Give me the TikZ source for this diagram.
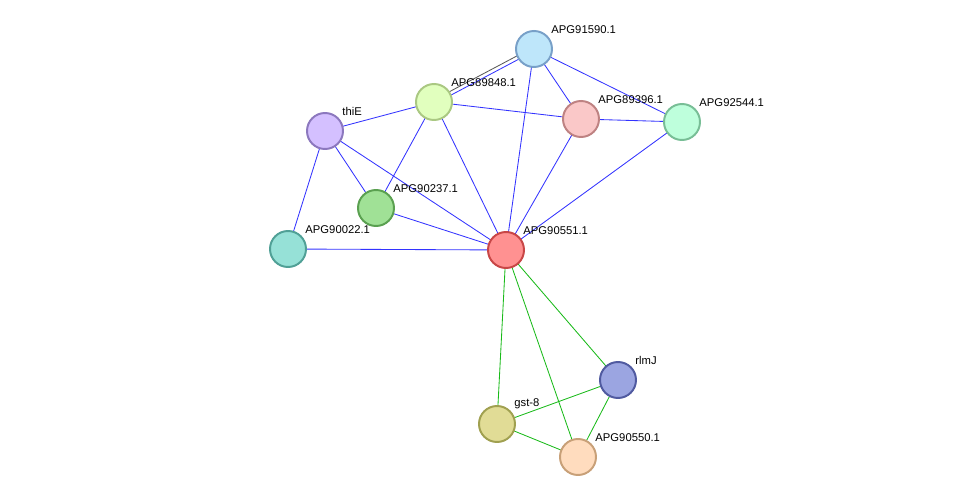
\documentclass[tikz,border=0pt]{standalone}
\usepackage{fontspec}
\setmainfont{Liberation Sans}
\begin{document}
\begin{tikzpicture}[
    x=0.025cm, y=-0.025cm,
    prot/.style={circle, draw, line width=1.4pt, minimum size=0.9cm, inner sep=0pt},
    lbl/.style={anchor=south west, inner sep=0pt, font=\fontsize{8}{9}\selectfont},
    ev/.style={draw=blue!80, line width=0.6pt},
    gv/.style={draw=green!70!black!90, line width=0.6pt},
]
\useasboundingbox (0,0) rectangle (975,503);

% Proteine
\definecolor{fa}{RGB}{190,230,250}\definecolor{ba}{RGB}{120,160,200}
\definecolor{fb}{RGB}{225,255,190}\definecolor{bb}{RGB}{170,200,130}
\definecolor{fc}{RGB}{212,192,255}\definecolor{bc}{RGB}{140,120,190}
\definecolor{fd}{RGB}{250,200,200}\definecolor{bd}{RGB}{190,130,130}
\definecolor{fe}{RGB}{190,255,220}\definecolor{be}{RGB}{120,190,150}
\definecolor{ff}{RGB}{160,225,150}\definecolor{bf}{RGB}{90,160,80}
\definecolor{fg}{RGB}{150,225,215}\definecolor{bg}{RGB}{80,160,150}
\definecolor{fh}{RGB}{255,145,145}\definecolor{bh}{RGB}{200,70,70}
\definecolor{fi}{RGB}{155,165,225}\definecolor{bi}{RGB}{80,90,160}
\definecolor{fj}{RGB}{225,220,150}\definecolor{bj}{RGB}{160,160,80}
\definecolor{fk}{RGB}{255,220,190}\definecolor{bk}{RGB}{200,160,120}

\coordinate (p91590) at (534,49);
\coordinate (p89848) at (434,102);
\coordinate (pthiE) at (325,131);
\coordinate (p89396) at (581,119);
\coordinate (p92544) at (682,122);
\coordinate (p90237) at (376,208);
\coordinate (p90022) at (288,249);
\coordinate (p90551) at (506,250);
\coordinate (prlmJ) at (618,380);
\coordinate (pgst) at (497,424);
\coordinate (p90550) at (578,457);

% Connessioni
\foreach \a/\b in {p91590/p89396,p91590/p92544,p91590/p90551,p89848/pthiE,
    p89848/p89396,p89848/p90237,p89848/p90551,p89396/p92544,p89396/p90551,
    p92544/p90551,pthiE/p90237,pthiE/p90022,pthiE/p90551,p90237/p90551,p90022/p90551}
    \draw[ev] (\a) -- (\b);
\draw[ev] ([yshift=-1.5pt]p91590) -- ([yshift=-1.5pt]p89848);
\draw[draw=gray!70!black, line width=0.6pt] ([yshift=1.5pt]p91590) -- ([yshift=1.5pt]p89848);
\foreach \a/\b in {p90551/pgst,p90551/p90550,p90551/prlmJ,prlmJ/pgst,prlmJ/p90550,pgst/p90550}
    \draw[gv] (\a) -- (\b);

% Nodi
\foreach \p/\c/\t in {p91590/a/APG91590.1,p89848/b/APG89848.1,pthiE/c/thiE,
    p89396/d/APG89396.1,p92544/e/APG92544.1,p90237/f/APG90237.1,p90022/g/APG90022.1,
    p90551/h/APG90551.1,prlmJ/i/rlmJ,pgst/j/gst-8,p90550/k/APG90550.1}{
    \node[prot, fill=f\c, draw=b\c] (n\c) at (\p) {};
    \node[lbl] (l\c) at ([xshift=18\pgflinewidth*0+0.43cm, yshift=0.38cm]\p) {\t};
}
\end{tikzpicture}
\end{document}
